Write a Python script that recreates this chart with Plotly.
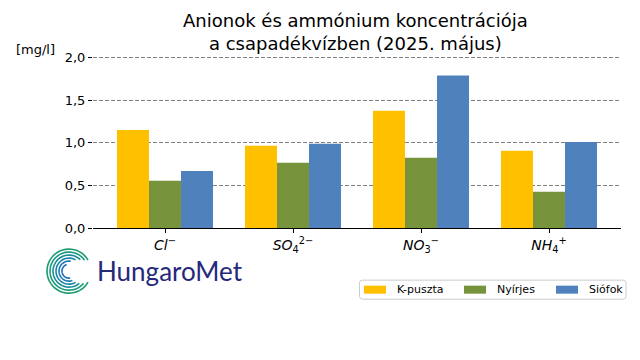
import numpy as np
import plotly.graph_objects as go

categories = ["<i>Cl</i><sup>−</sup>", "<i>SO</i><sub>4</sub><sup>2−</sup>",
              "<i>NO</i><sub>3</sub><sup>−</sup>", "<i>NH</i><sub>4</sub><sup>+</sup>"]
kpuszta = [1.15, 0.965, 1.375, 0.905]
nyirjes = [0.555, 0.765, 0.825, 0.425]
siofok = [0.67, 0.99, 1.79, 1.01]
series_names = ["K-puszta", "Nyírjes", "Siófok"]
colors = ["#FFC000", "#77933C", "#4F81BD"]
yticks = [0.0, 0.5, 1.0, 1.5, 2.0]

W, H = 640, 360
YTOP = 2.03
L, R, B = 93, 621, 228
T = B - YTOP * 85.0

fig = go.Figure()
for name, vals, c in zip(series_names, [kpuszta, nyirjes, siofok], colors):
    fig.add_trace(go.Bar(x=categories, y=vals, name=name, showlegend=False,
                         marker=dict(color=c, line=dict(width=0))))

def px(x):
    return (x - L) / (R - L)

def py(y):
    return (B - y) / (B - T)

shapes = []
# decorative logo spiral
cx, cy = 69, 271
arc_specs = [(22, 30, 330), (19, 35, 320), (16, 45, 310), (13, 60, 300), (10, 80, 290), (7, 110, 280)]
grad = ["#1e9c6e", "#1b9a80", "#1a8f96", "#1a84a8", "#1b78b4", "#1f6fb8"]
for (r, a0, a1), col in zip(arc_specs, grad):
    ang = np.radians(np.linspace(a0, a1, 40))
    xs = cx + r * np.cos(ang)
    ys = cy - r * np.sin(ang)
    path = "M " + " L ".join(f"{px(a):.4f},{py(b):.4f}" for a, b in zip(xs, ys))
    shapes.append(dict(type="path", path=path, xref="paper", yref="paper",
                       line=dict(color=col, width=1.6)))

# legend box (rounded)
x0, x1, y0, y1, rr = 359.5, 626, 280, 299, 3
pts = [("M", x0 + rr, y0), ("L", x1 - rr, y0), ("Q", x1, y0, x1, y0 + rr), ("L", x1, y1 - rr),
       ("Q", x1, y1, x1 - rr, y1), ("L", x0 + rr, y1), ("Q", x0, y1, x0, y1 - rr),
       ("L", x0, y0 + rr), ("Q", x0, y0, x0 + rr, y0)]
segs = []
for p in pts:
    if p[0] == "Q":
        segs.append(f"Q {px(p[1]):.4f},{py(p[2]):.4f} {px(p[3]):.4f},{py(p[4]):.4f}")
    else:
        segs.append(f"{p[0]} {px(p[1]):.4f},{py(p[2]):.4f}")
shapes.append(dict(type="path", path=" ".join(segs) + " Z", xref="paper", yref="paper",
                   line=dict(color="#cccccc", width=1), fillcolor="white", layer="above"))

annotations = [
    dict(text="Anionok és ammónium koncentrációja<br>a csapadékvízben (2025. május)",
         x=px(355.5), y=py(33), xref="paper", yref="paper", showarrow=False,
         xanchor="center", yanchor="middle", font=dict(size=18)),
    dict(text="[mg/l]", x=px(35), y=py(50), xref="paper", yref="paper",
         showarrow=False, font=dict(size=13), xanchor="center", yanchor="middle"),
    dict(text="HungaroMet", x=px(95), y=py(271), xref="paper", yref="paper",
         showarrow=False, font=dict(size=26, color="#26287a", family="Lato"),
         xanchor="left", yanchor="middle"),
]

sym_x = [364, 464, 556]
txt_x = [395, 495, 587]
for name, c, sx, tx in zip(series_names, colors, sym_x, txt_x):
    shapes.append(dict(type="rect", xref="paper", yref="paper", x0=px(sx), x1=px(sx + 22),
                       y0=py(285.5), y1=py(293.5), fillcolor=c, line=dict(width=0), layer="above"))
    annotations.append(dict(text=name, x=px(tx), y=py(289.5), xref="paper", yref="paper",
                            showarrow=False, xanchor="left", yanchor="middle",
                            font=dict(size=11)))

fig.update_layout(
    width=W, height=H,
    margin=dict(l=L, r=W - R, t=T, b=H - B),
    paper_bgcolor="white", plot_bgcolor="white",
    font=dict(family="DejaVu Sans", size=12, color="black"),
    separators=", ",
    barmode="group", bargap=0.25, bargroupgap=0,
    showlegend=False,
    xaxis=dict(showline=True, linecolor="black", linewidth=1.2, ticks="outside", ticklen=4,
               tickcolor="black", showgrid=False, tickfont=dict(size=14),
               range=[-0.5625, 3.5625]),
    yaxis=dict(range=[0, YTOP], tickvals=yticks, tickformat=".1f", ticks="outside", ticklen=4,
               tickcolor="black", showline=False, zeroline=False,
               showgrid=True, gridcolor="gray", griddash="4px,2px", gridwidth=1,
               tickfont=dict(size=13)),
    shapes=shapes,
    annotations=annotations,
)

fig.write_html("out.html", post_script="document.body.style.margin='0';",
               config={"displayModeBar": False})
